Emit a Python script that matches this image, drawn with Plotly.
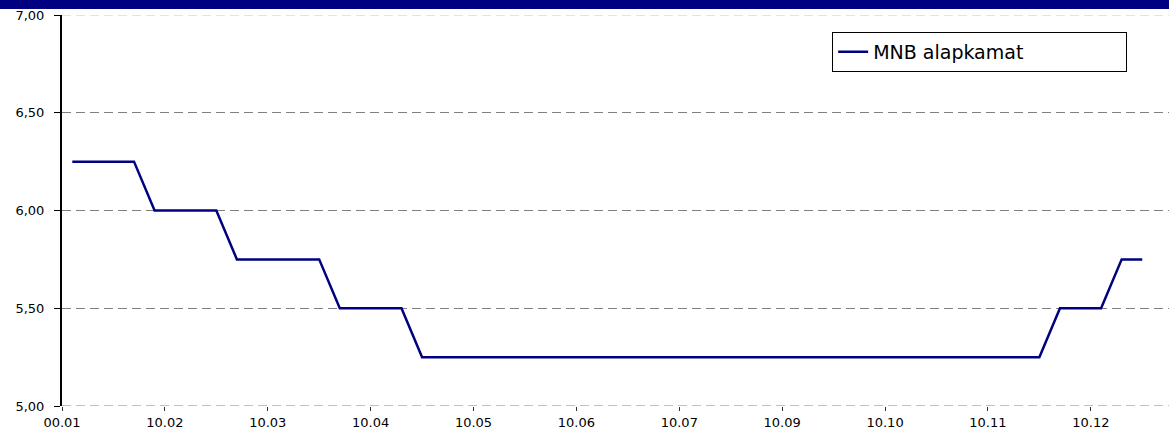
import plotly.graph_objects as go

# MNB base rate, one value per period (53 periods)
rates = [6.25, 6.25, 6.25, 6.25,
         6.00, 6.00, 6.00, 6.00,
         5.75, 5.75, 5.75, 5.75, 5.75,
         5.50, 5.50, 5.50, 5.50,
         5.25, 5.25, 5.25, 5.25, 5.25, 5.25, 5.25, 5.25, 5.25, 5.25,
         5.25, 5.25, 5.25, 5.25, 5.25, 5.25, 5.25, 5.25, 5.25, 5.25,
         5.25, 5.25, 5.25, 5.25, 5.25, 5.25, 5.25, 5.25, 5.25, 5.25, 5.25,
         5.50, 5.50, 5.50,
         5.75, 5.75]
periods = list(range(len(rates)))

tick_labels = ['00.01', '10.02', '10.03', '10.04', '10.05', '10.06',
               '10.07', '10.09', '10.10', '10.11', '10.12']
tick_pos = [i * 5 - 0.5 for i in range(len(tick_labels))]

y_ticks = [5.0, 5.5, 6.0, 6.5, 7.0]
y_min, y_max = y_ticks[0], y_ticks[-1]

fig = go.Figure()
fig.add_trace(go.Scatter(
    x=periods, y=rates,
    mode='lines',
    line=dict(color='#000080', width=2.5),
    name='MNB alapkamat',
    cliponaxis=False
))

# gridlines at the axis ends (plotly drops those)
edge_lines = [dict(type='line', xref='paper', yref='y', x0=0, x1=1, y0=v, y1=v,
                   line=dict(color=c, width=1, dash='9px,5px'), layer='below')
              for v, c in [(y_min, '#808080'), (y_max, '#c8c8c8')]]

fig.update_layout(
    width=1169, height=433,
    margin=dict(l=62, r=0, t=15, b=27),
    paper_bgcolor='white', plot_bgcolor='white',
    separators=', ',
    font=dict(family='DejaVu Sans', size=12, color='black'),
    showlegend=True,
    legend=dict(
        orientation='h',
        x=0.6957, y=0.957, xanchor='left', yanchor='top',
        bordercolor='black', borderwidth=1,
        bgcolor='white',
        font=dict(family='DejaVu Sans', size=19, color='black'),
        entrywidth=248, entrywidthmode='pixels',
    ),
    xaxis=dict(
        range=[-0.5, 53.3],
        tickvals=tick_pos, ticktext=tick_labels,
        showgrid=False, zeroline=False, showline=False,
        ticks='outside', ticklen=4, tickcolor='#333',
        tickfont=dict(size=13),
    ),
    yaxis=dict(
        range=[y_min, y_max],
        tickvals=y_ticks, tickformat='.2f',
        showgrid=True, gridcolor='#808080', griddash='9px,5px', gridwidth=1,
        zeroline=False,
        showline=True, linecolor='black', linewidth=2,
        ticks='outside', ticklen=6, tickcolor='black',
        ticklabelstandoff=7,
        tickfont=dict(size=13),
    ),
    shapes=edge_lines + [dict(
        type='rect', xref='paper', yref='paper',
        x0=-0.1, x1=1.1, y0=(406 - 9) / 391, y1=1.1,
        fillcolor='#000080', line=dict(width=0), layer='above'
    )]
)

fig.write_html("out.html", config={'displayModeBar': False},
               post_script="document.body.style.margin='0';")
